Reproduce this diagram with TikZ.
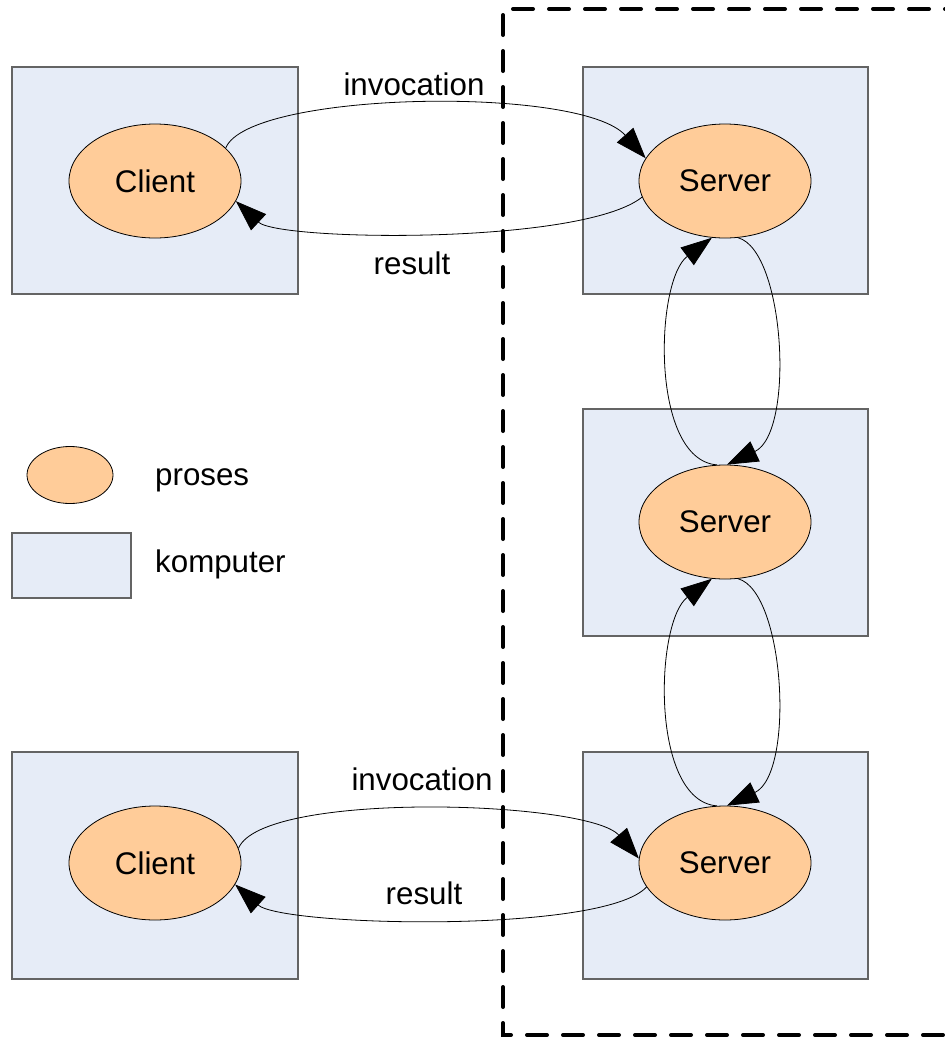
\documentclass[tikz,border=0pt]{standalone}
\usepackage{fontspec}
\setmainfont{Liberation Sans}
\usetikzlibrary{arrows.meta,shapes.geometric}
\definecolor{boxfill}{RGB}{230,236,247}
\definecolor{boxline}{RGB}{100,100,100}
\definecolor{procfill}{RGB}{255,204,153}
\tikzset{
  komp/.style={draw=boxline,line width=1.2pt,fill=boxfill,rectangle,inner sep=0pt},
  proc/.style={draw=black,line width=0.8pt,fill=procfill,ellipse,inner sep=0pt,minimum width=172pt,minimum height=114pt,font=\fontsize{31.3}{37}\selectfont},
  conn/.style={draw=black,line width=0.8pt,-{Triangle[length=31pt,width=22pt]}},
  lbl/.style={font=\fontsize{31.3}{37}\selectfont,inner sep=0pt},
  boundary/.style={draw=black,line width=4pt,dash pattern=on 20pt off 16pt,line cap=round}
}
\begin{document}
\begin{tikzpicture}[x=1pt,y=-1pt]
\useasboundingbox (0,0) rectangle (945,1042);
\clip (0,0) rectangle (945,1042);
% computers
\node[komp,minimum width=286pt,minimum height=227pt] (b1) at (155,180.5) {};
\node[komp,minimum width=285pt,minimum height=227pt] (b2) at (725.5,180.5) {};
\node[komp,minimum width=285pt,minimum height=227pt] (b3) at (725.5,522.5) {};
\node[komp,minimum width=286pt,minimum height=227pt] (b4) at (155,865.5) {};
\node[komp,minimum width=285pt,minimum height=227pt] (b5) at (725.5,865.5) {};
\node[komp,minimum width=119pt,minimum height=65pt] (lb) at (71.5,565.5) {};
% processes
\node[proc] (c1) at (155,181) {Client};
\node[proc] (s1) at (725,181) {Server};
\node[proc] (s2) at (725,522) {Server};
\node[proc] (s3) at (725,863) {Server};
\node[proc] (c2) at (155,863) {Client};
\node[proc,minimum width=86pt,minimum height=57pt] (le) at (70,475) {};
% legend text
\node[lbl,anchor=base west] (lt1) at (155,485) {proses};
\node[lbl,anchor=base west] (lt2) at (155,572) {komputer};
% connectors
\draw[conn] (c1.25) .. controls +(23,-57) and +(-65,-73) .. (s1.164);
\draw[conn] (s1.191) .. controls +(-60,48) and +(43,40) .. (c1.-14);
\draw[conn] (c2.10) .. controls +(24,-58) and +(-50,-58) .. (s3.177);
\draw[conn] (s3.197) .. controls +(-43,47) and +(47,42) .. (c2.-15);
\draw[conn] (s1.-77) .. controls +(47,13) and +(68,-32) .. (s2.88);
\draw[conn] (s2.98) .. controls +(-67,-5) and +(-57,43) .. (s1.-103);
\draw[conn] (s2.-77) .. controls +(47,13) and +(68,-32) .. (s3.88);
\draw[conn] (s3.98) .. controls +(-67,-5) and +(-57,43) .. (s2.-103);
% labels
\node[lbl] (inv1) at (414,84) {invocation};
\node[lbl] (res1) at (412,263.5) {result};
\node[lbl] (inv2) at (422,779) {invocation};
\node[lbl] (res2) at (424,893.5) {result};
% boundary
\coordinate (dtr) at (965,9);
\coordinate (dtl) at (503,9);
\coordinate (dbl) at (503,1035);
\coordinate (dbr) at (965,1035);
\draw[boundary] (dtr) -- (dtl) -- (dbl) -- (dbr);
\end{tikzpicture}
\end{document}
